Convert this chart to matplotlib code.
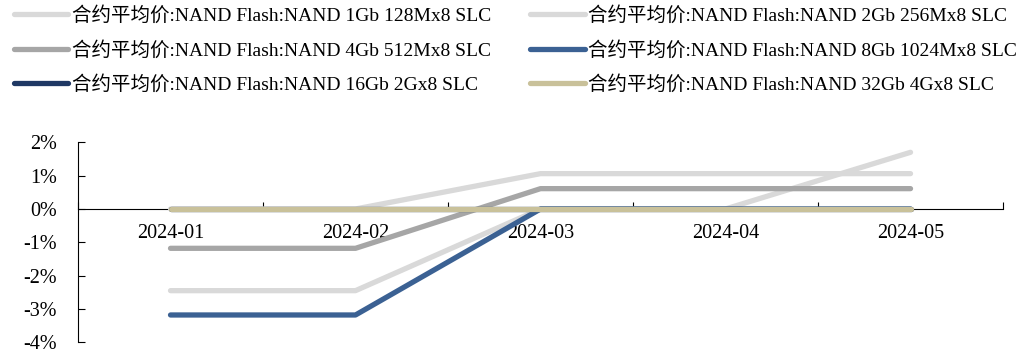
import matplotlib.pyplot as plt
from matplotlib.ticker import FuncFormatter

plt.rcParams['font.family'] = ['Liberation Serif', 'Noto Sans CJK SC']

months = ['2024-01', '2024-02', '2024-03', '2024-04', '2024-05']
prefix = '合约平均价:NAND Flash:NAND '
names = ['1Gb 128Mx8 SLC', '2Gb 256Mx8 SLC', '4Gb 512Mx8 SLC',
         '8Gb 1024Mx8 SLC', '16Gb 2Gx8 SLC', '32Gb 4Gx8 SLC']
nand_1gb = [0.0, 0.0, 1.06, 1.06, 1.06]
nand_2gb = [-2.45, -2.45, 0.0, 0.0, 1.70]
nand_4gb = [-1.18, -1.18, 0.61, 0.61, 0.61]
nand_8gb = [-3.18, -3.18, 0.0, 0.0, 0.0]
nand_16gb = [0.0, 0.0, 0.0, 0.0, 0.0]
nand_32gb = [0.0, 0.0, 0.0, 0.0, 0.0]
series = [nand_1gb, nand_2gb, nand_4gb, nand_8gb, nand_16gb, nand_32gb]
colors = ['#d9d9d9', '#d9d9d9', '#a6a6a6', '#3b6193', '#1f3864', '#c9c19a']

fig = plt.figure(figsize=(10.21, 3.54), dpi=100)
ax = fig.add_axes([0.0764, 0.033, 0.906, 0.565])

x = range(len(months))
lines = []
for vals, name, c in zip(series, names, colors):
    ln, = ax.plot(x, vals, color=c, lw=3.8, solid_capstyle='round',
                  solid_joinstyle='round', label=prefix + name)
    lines.append(ln)

ax.set_xlim(-0.5, len(months) - 0.5)
ax.set_ylim(-4, 2)
ax.set_yticks(range(-4, 3))
ax.yaxis.set_major_formatter(FuncFormatter(lambda v, p: f'{v:.0f}%'))

ax.spines['top'].set_visible(False)
ax.spines['right'].set_visible(False)
ax.spines['bottom'].set_position(('data', 0))
ax.spines['bottom'].set_zorder(0)

# boundary ticks, labels at category centres
ax.set_xticks([i - 0.5 for i in range(len(months) + 1)])
ax.set_xticklabels([])
ax.set_xticks(list(x), minor=True)
ax.set_xticklabels(months, minor=True)
ax.tick_params(axis='x', which='major', direction='in', length=5)
ax.tick_params(axis='x', which='minor', length=0, pad=11, labelsize=14.5)
ax.tick_params(axis='y', direction='in', length=5, labelsize=14.5, pad=15)

# legend filled row by row
order = [0, 2, 4, 1, 3, 5]
fig.legend([lines[i] for i in order], [lines[i].get_label() for i in order],
           loc='upper left', bbox_to_anchor=(0.0, 1.02), ncol=2, frameon=False,
           fontsize=14, handlelength=2.8, handletextpad=0.2,
           columnspacing=2.0, labelspacing=0.8, borderaxespad=0.3)

fig.savefig('out.png', dpi=100)
